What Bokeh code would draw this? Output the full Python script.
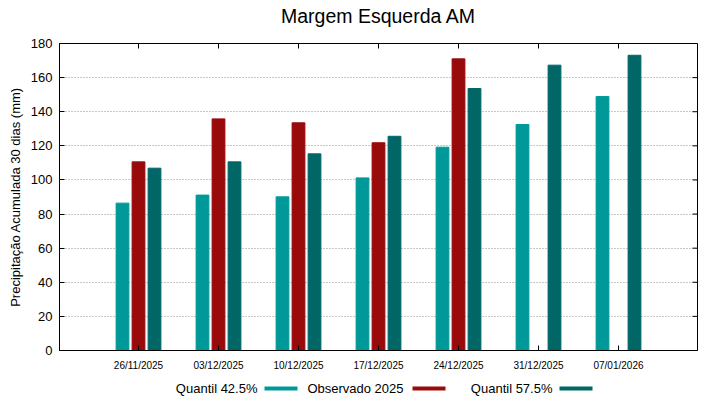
import math
import numpy as np
from bokeh.plotting import figure
from bokeh.layouts import column
from bokeh.models import (ColumnDataSource, FixedTicker, Range1d,
                          Label, BoxAnnotation)
from bokeh.transform import dodge
from bokeh.embed import file_html
from bokeh.resources import INLINE

dates = ["26/11/2025", "03/12/2025", "10/12/2025", "17/12/2025",
         "24/12/2025", "31/12/2025", "07/01/2026"]
q425 = [86.4, 91.1, 90.1, 101.2, 119.2, 132.5, 148.9]
obs2025 = [110.6, 135.8, 133.5, 121.8, 171.0, np.nan, np.nan]
q575 = [106.9, 110.6, 115.3, 125.6, 153.6, 167.3, 173.1]
y_ticks = [0, 20, 40, 60, 80, 100, 120, 140, 160, 180]
series_names = ["Quantil 42.5%", "Observado 2025", "Quantil 57.5%"]
title_text = "Margem Esquerda AM"

C1 = "#009999"
C2 = "#990b0b"
C3 = "#006666"
FONT = "Liberation Sans"

xs = list(range(len(dates)))
src = ColumnDataSource(dict(x=xs, q425=q425, obs=obs2025, q575=q575))

W = 711
FL = 59  # frame left (all strips are frame-aligned)


def strip(h):
    f = figure(width=W, height=h, output_backend="svg", toolbar_location=None,
               title=None, x_range=Range1d(0, 1), y_range=Range1d(0, 1),
               min_border=0, min_border_left=FL, min_border_right=14,
               min_border_top=0, min_border_bottom=0)
    f.axis.visible = False
    f.grid.visible = False
    f.outline_line_color = None
    return f


# title strip
TH = 30
tf = strip(TH)
tf.add_layout(Label(x=(697 - 59) / 2, y=TH - 15.5, x_units="screen", y_units="screen",
                    text=title_text, text_font=FONT, text_font_size="19.5px",
                    text_align="center", text_baseline="middle",
                    text_color="black"))

# main chart
H = 343
xr = Range1d(-0.9875, 6.9875)
yr = Range1d(0, 180)
p = figure(width=W, height=H, output_backend="svg", toolbar_location=None,
           title=None, x_range=xr, y_range=yr,
           min_border_left=FL, min_border_right=14, min_border_top=13,
           min_border_bottom=23)

bw = 0.16
p.vbar(x=dodge("x", -0.2), top="q425", width=bw, source=src, color=C1)
p.vbar(x=dodge("x", 0.0), top="obs", width=bw, source=src, color=C2)
p.vbar(x=dodge("x", 0.2), top="q575", width=bw, source=src, color=C3)

# mirrored inward ticks on the top and right edges
p.ray(x=[xr.end] * len(y_ticks), y=y_ticks, angle=math.pi, length=5,
      length_units="screen", line_color="black", line_width=1)
p.ray(x=xs, y=[yr.end] * len(xs), angle=-math.pi / 2, length=5,
      length_units="screen", line_color="black", line_width=1)

p.outline_line_color = "black"
p.outline_line_width = 1
p.outline_line_alpha = 1

p.xgrid.visible = False
p.ygrid.ticker = FixedTicker(ticks=y_ticks)
p.ygrid.grid_line_color = "#909090"
p.ygrid.grid_line_dash = "1 2"
p.ygrid.grid_line_width = 1

xa = p.xaxis[0]
xa.ticker = FixedTicker(ticks=xs)
xa.major_label_overrides = {i: d for i, d in enumerate(dates)}
xa.major_label_text_font = FONT
xa.major_label_text_font_size = "10px"
xa.major_label_text_color = "black"
xa.major_label_standoff = 9
xa.major_tick_in = 5
xa.major_tick_out = 0
xa.minor_tick_line_color = None
xa.axis_line_color = "black"
xa.major_tick_line_color = "black"

ya = p.yaxis[0]
ya.ticker = FixedTicker(ticks=y_ticks)
ya.major_label_text_font = FONT
ya.major_label_text_font_size = "13px"
ya.major_label_text_color = "black"
ya.major_label_standoff = 7
ya.major_tick_in = 5
ya.major_tick_out = 0
ya.minor_tick_line_color = None
ya.axis_line_color = "black"
ya.major_tick_line_color = "black"
ya.axis_label = "Precipitação Acumulada 30 dias (mm)"
ya.axis_label_text_font = FONT
ya.axis_label_text_font_size = "13px"
ya.axis_label_text_font_style = "normal"
ya.axis_label_text_color = "black"
ya.axis_label_standoff = 5

# legend strip below the chart (text before the sample line)
LH = 23
lg = strip(LH)
leg = [(series_names[0], C1, 257, 264), (series_names[1], C2, 403, 412),
       (series_names[2], C3, 552, 559)]
for txt, col, tx, sx in leg:
    lg.add_layout(Label(x=tx - FL, y=8, x_units="screen", y_units="screen",
                        text=txt, text_font=FONT, text_font_size="13px",
                        text_align="right", text_baseline="middle",
                        text_color="black"))
    lg.add_layout(BoxAnnotation(left=sx - FL, right=sx - FL + 33, bottom=6, top=10,
                                left_units="screen", right_units="screen",
                                bottom_units="screen", top_units="screen",
                                fill_color=col, fill_alpha=1, line_color=None))

layout = column(tf, p, lg, spacing=0)
open("out.html", "w").write(file_html(layout, INLINE))
